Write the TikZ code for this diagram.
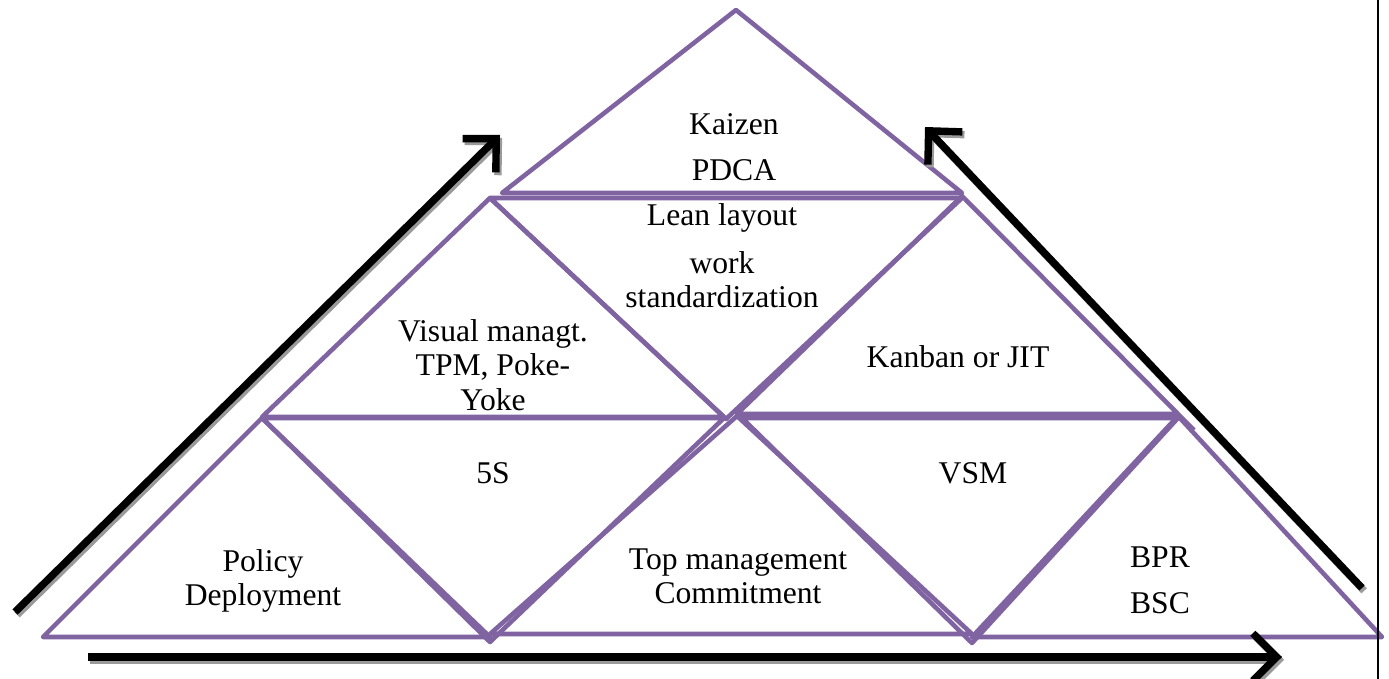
\documentclass[tikz,border=0pt]{standalone}
\usepackage{fontspec}
\setmainfont{Liberation Serif}
\usetikzlibrary{arrows.meta}
\definecolor{lilac}{HTML}{8064A2}
\definecolor{shadow}{HTML}{9A9A9A}

\begin{document}
\begin{tikzpicture}[x=0.02cm,y=-0.02cm,
  wedge/.style={lilac,line width=2.6pt,line join=round},
  lbl/.style={font=\fontsize{18}{19.5}\selectfont,align=center,inner sep=0pt},
  bigarrow/.style={line width=4.2pt,-{Straight Barb[length=4.8mm,width=9.5mm]}},
  arrowshade/.style={bigarrow,shadow,transform canvas={xshift=1.2pt,yshift=-1.6pt}}]
  \useasboundingbox (0,0) rectangle (1389,679);

  % Top row
  \draw[wedge] (736,10) -- (502,193) -- (962,193) -- cycle;

  % Middle row
  \draw[wedge] (490,198) -- (262,417) -- (724,417) -- cycle;
  \draw[wedge] (490,198) -- (962,198) -- (726,419) -- cycle;
  \draw[wedge] (962,196) -- (737,414) -- (1178,414) -- cycle;
  \draw[wedge] (1178,414) -- (1194,430);

  % Bottom row
  \draw[wedge] (262,418) -- (43,637) -- (490,637) -- cycle;
  \draw[wedge] (262,418) -- (724,418) -- (490,642) -- cycle;
  \draw[wedge] (737,416) -- (490,634) -- (972,634) -- cycle;
  \draw[wedge] (742,418) -- (1178,418) -- (972,643) -- cycle;
  \draw[wedge] (1178,416) -- (972,637) -- (1382,637) -- cycle;

  % Labels
  \node[lbl] (kaizen) at (734,147) {Kaizen\\[6.5pt]PDCA};
  \node[lbl] (lean) at (722,256) {Lean layout\\[7.5pt]work\\standardization};
  \node[lbl] (visual) at (493,365) {Visual managt.\\TPM, Poke-\\Yoke};
  \node[lbl] (kanban) at (958,357) {Kanban or JIT};
  \node[lbl] (fiveS) at (493,473) {5S};
  \node[lbl] (vsm) at (973,473) {VSM};
  \node[lbl] (policy) at (263,581) {Policy\\Deployment};
  \node[lbl] (commit) at (738,576) {Top management\\Commitment};
  \node[lbl] (bpr) at (1160,580) {BPR\\[6.5pt]BSC};

  % Arrows
  \coordinate (lefttail) at (15,612);
  \coordinate (lefthead) at (500,135);
  \coordinate (righttail) at (1362,588);
  \coordinate (righthead) at (925,127);
  \coordinate (basetail) at (88,657);
  \coordinate (basehead) at (1282,657);
  \foreach \a/\b in {lefttail/lefthead,righttail/righthead,basetail/basehead}{
    \draw[arrowshade] (\a) -- (\b);
    \draw[bigarrow] (\a) -- (\b);
  }

  % Frame edge
  \draw[line width=1.1pt] (1378,0) -- (1378,679);
\end{tikzpicture}
\end{document}
